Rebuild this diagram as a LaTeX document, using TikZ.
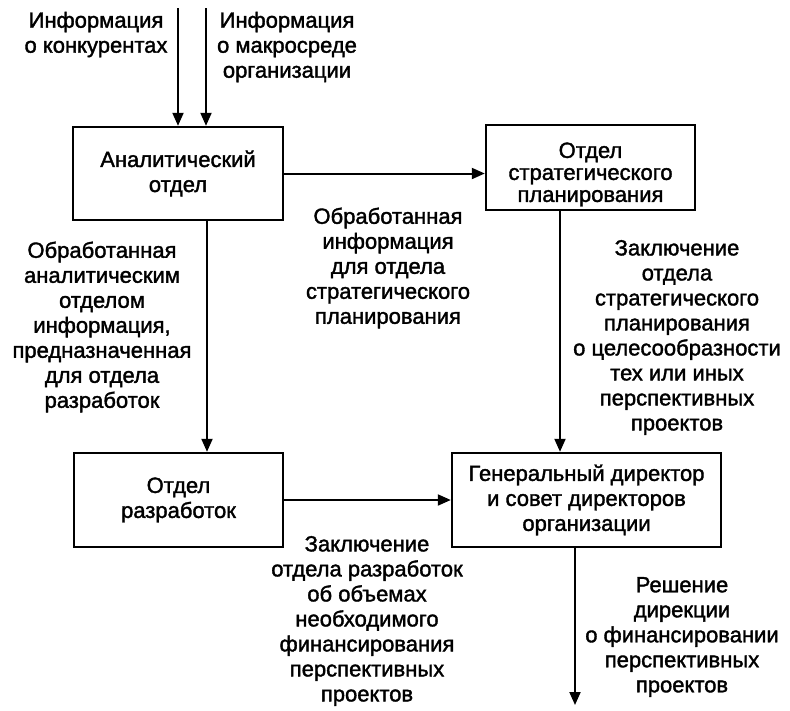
\documentclass[tikz,border=0pt]{standalone}
\usepackage{fontspec}
\setmainfont{Liberation Sans}[FakeBold=1.6]
\usetikzlibrary{arrows.meta}
\tikzset{
  box/.style={draw, line width=2.4pt, minimum width=#1, inner sep=0pt, align=center,
    font=\fontsize{22}{25}\selectfont},
  box/.default=210pt,
  lbl/.style={align=center, inner sep=0pt, font=\fontsize{22}{25}\selectfont},
  arr/.style={line width=2pt, -{Triangle[length=13pt,width=11pt]}},
}
\begin{document}
\begin{tikzpicture}[x=1pt,y=-1pt]
\useasboundingbox (0,0) rectangle (790,710);
% boxes
\node[box=210pt, minimum height=93pt] (A) at (178,173.5) {Аналитический\\отдел};
\node[box=209pt, minimum height=85pt] (B) at (590.5,167.5) {};
\node[lbl, font=\fontsize{22}{22}\selectfont] (Bt) at (590.5,174.5) {Отдел\\стратегического\\планирования};
\node[box=209pt, minimum height=94pt] (D) at (178.5,500) {Отдел\\разработок};
\node[box=269pt, minimum height=94pt] (G) at (586.5,500) {Генеральный директор\\и совет директоров\\организации};
% inputs
\coordinate (in1) at (178,8);
\coordinate (in2) at (206,8);
\coordinate (out) at (575,705);
\draw[arr] (in1) -- (in1 |- A.north);
\draw[arr] (in2) -- (in2 |- A.north);
\draw[arr] (A.east) -- (A.east -| B.west);
\draw[arr] ([xshift=29pt]A.south) -- ([xshift=29pt]A.south |- D.north);
\draw[arr] ([xshift=-30.5pt]B.south) -- ([xshift=-30.5pt]B.south |- G.north);
\draw[arr] (D.east) -- (D.east -| G.west);
\draw[arr] (out |- G.south) -- (out);
% labels
\node[lbl] (l1) at (96,34.5) {Информация\\о конкурентах};
\node[lbl] (l2) at (287,47) {Информация\\о макросреде\\организации};
\node[lbl] (l3) at (388,268) {Обработанная\\информация\\для отдела\\стратегического\\планирования};
\node[lbl] (l4) at (102,327) {Обработанная\\аналитическим\\отделом\\информация,\\предназначенная\\для отдела\\разработок};
\node[lbl] (l5) at (677,337.5) {Заключение\\отдела\\стратегического\\планирования\\о целесообразности\\тех или иных\\перспективных\\проектов};
\node[lbl] (l6) at (367,621) {Заключение\\отдела разработок\\об объемах\\необходимого\\финансирования\\перспективных\\проектов};
\node[lbl] (l7) at (682,637) {Решение\\дирекции\\о финансировании\\перспективных\\проектов};
\end{tikzpicture}
\end{document}
